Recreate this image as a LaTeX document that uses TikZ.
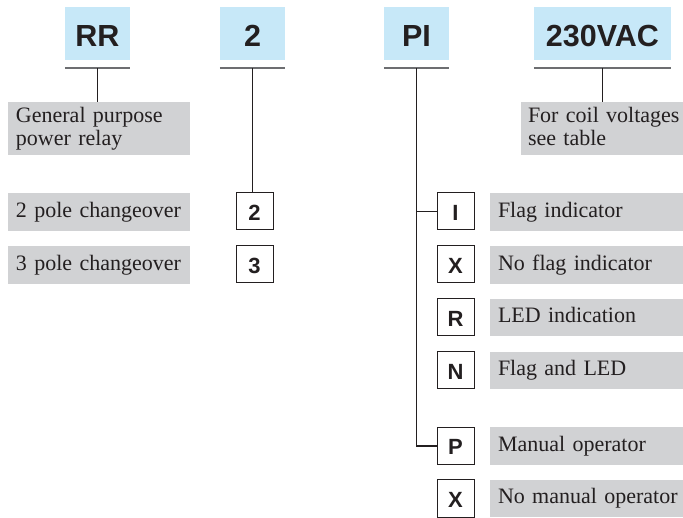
\documentclass[tikz,border=0pt]{standalone}
\usepackage{fontspec}
\setmainfont{Liberation Serif}
\setsansfont{Liberation Sans}
\definecolor{hdrblue}{HTML}{C7E8F8}
\definecolor{lgray}{HTML}{D1D2D4}
\definecolor{ink}{HTML}{231F20}
\definecolor{uline}{HTML}{6D6E71}
\begin{document}
\begin{tikzpicture}[x=1pt,y=-1pt,
  hdr/.style={fill=hdrblue, minimum height=53pt, inner sep=0pt, text=ink,
    font=\sffamily\bfseries\fontsize{30.5}{32}\selectfont, text height=27pt, text depth=0pt},
  code/.style={draw=ink, line width=1pt, fill=white, minimum width=37pt, minimum height=37pt, inner sep=0pt, text=ink,
    font=\sffamily\bfseries\fontsize{22}{23}\selectfont, text height=18pt, text depth=0pt},
  desc/.style={fill=lgray, inner ysep=0pt, inner xsep=8pt, align=left, text=ink,
    font=\fontsize{22}{23}\selectfont, text height=15.5pt, text depth=5pt},
  desc2/.style={desc, text depth=28pt},
  uline/.style={draw=uline, line width=1.5pt},
  conn/.style={draw=ink, line width=1.1pt}]
\useasboundingbox (0,0) rectangle (683,518);
% headers
\node[hdr, minimum width=65pt] (hRR) at (97.5,33.5) {RR};
\node[hdr, minimum width=65pt] (h2) at (252.5,33.5) {2};
\node[hdr, minimum width=65pt] (hPI) at (416.5,33.5) {PI};
\node[hdr, minimum width=137pt] (hV) at (602.5,33.5) {230VAC};
% underlines
\foreach \n in {hRR,h2,hPI,hV}{
  \coordinate (\n-ul) at ([yshift=-8pt]\n.south west);
  \coordinate (\n-ur) at ([yshift=-8pt]\n.south east);
  \coordinate (\n-um) at ([yshift=-8pt]\n.south);
  \draw[uline] (\n-ul) -- (\n-ur);
}
% left descriptions
\node[desc2, minimum width=182pt, minimum height=53pt, text width=166pt] (g0) at (99,128.5) {\mbox{General purpose}\\\mbox{power relay}};
\node[desc, minimum width=182pt, minimum height=38pt, text width=166pt] (g2) at (99,212) {\mbox{2 pole changeover}};
\node[desc, minimum width=182pt, minimum height=38pt, text width=166pt] (g3) at (99,265) {\mbox{3 pole changeover}};
% coil voltage description
\node[desc2, inner xsep=7pt, minimum width=162pt, minimum height=53pt, text width=148pt] (gV) at (602,128.5) {\mbox{For coil voltages}\\\mbox{see table}};
% codes, pole
\node[code] (c2) at (254.5,211.5) {2};
\node[code] (c3) at (254.5,264.5) {3};
% codes, PI
\node[code] (cI) at (455.5,211.5) {I};
\node[code] (cX1) at (455.5,264.5) {X};
\node[code] (cR) at (455.5,317.5) {R};
\node[code] (cN) at (455.5,370.5) {N};
\node[code] (cP) at (455.5,446) {P};
\node[code] (cX2) at (455.5,498.5) {X};
% right descriptions
\foreach \n/\y/\t in {dI/212/Flag indicator, dX1/265/No flag indicator, dR/317.5/LED indication, dN/370.5/Flag and LED, dP/446/Manual operator, dX2/498.5/No manual operator}{
  \node[desc, minimum width=193pt, minimum height=37.5pt, text width=177pt] (\n) at (586.5,\y) {\mbox{\t}};
}
% connectors
\draw[conn] (hRR-um) -- (hRR-um |- g0.north);
\draw[conn] (h2-um) -- (h2-um |- c2.north);
\draw[conn] (hV-um) -- (hV-um |- gV.north);
\draw[conn] (hPI-um) |- (cP.west);
\draw[conn] (hPI-um |- cI.west) -- (cI.west);
\end{tikzpicture}
\end{document}
